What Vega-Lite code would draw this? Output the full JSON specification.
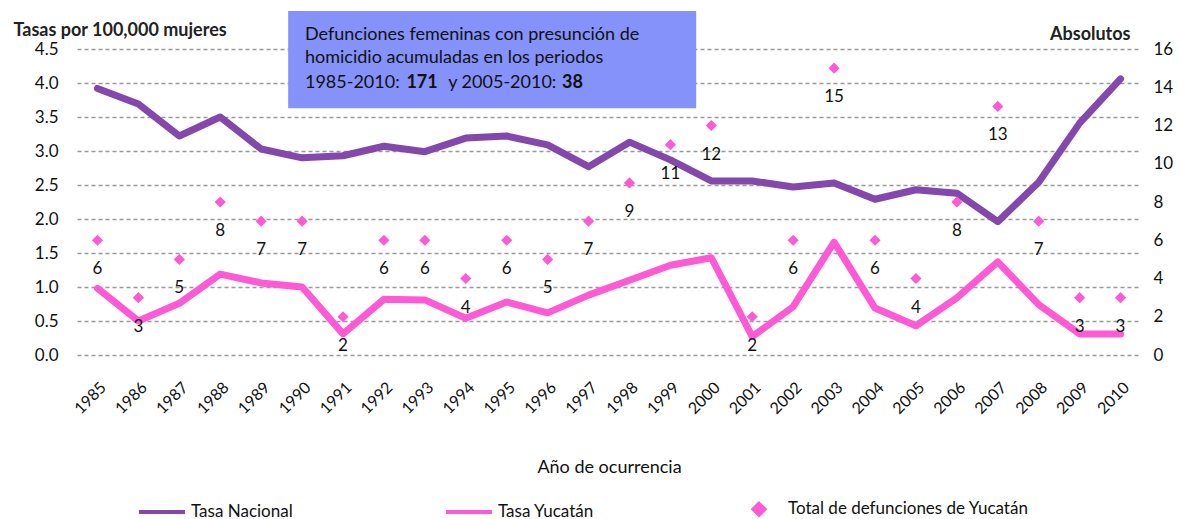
{
  "$schema": "https://vega.github.io/schema/vega-lite/v6.json",
  "width": 1064,
  "height": 306,
  "autosize": {"type": "none"},
  "padding": {"left": 77, "top": 49, "right": 40, "bottom": 164},
  "background": "white",
  "config": {
    "font": "Lato",
    "view": {"stroke": null},
    "axis": {"domain": false, "ticks": false, "tickSize": 0, "labelOverlap": false, "labelColor": "#111"}
  },
  "datasets": {
    "tasas": [
      {"anio": 1985, "serie": "Tasa  Nacional", "tasa": 3.92},
      {"anio": 1986, "serie": "Tasa  Nacional", "tasa": 3.69},
      {"anio": 1987, "serie": "Tasa  Nacional", "tasa": 3.22},
      {"anio": 1988, "serie": "Tasa  Nacional", "tasa": 3.5},
      {"anio": 1989, "serie": "Tasa  Nacional", "tasa": 3.03},
      {"anio": 1990, "serie": "Tasa  Nacional", "tasa": 2.9},
      {"anio": 1991, "serie": "Tasa  Nacional", "tasa": 2.93},
      {"anio": 1992, "serie": "Tasa  Nacional", "tasa": 3.07},
      {"anio": 1993, "serie": "Tasa  Nacional", "tasa": 2.99},
      {"anio": 1994, "serie": "Tasa  Nacional", "tasa": 3.19},
      {"anio": 1995, "serie": "Tasa  Nacional", "tasa": 3.22},
      {"anio": 1996, "serie": "Tasa  Nacional", "tasa": 3.09},
      {"anio": 1997, "serie": "Tasa  Nacional", "tasa": 2.77},
      {"anio": 1998, "serie": "Tasa  Nacional", "tasa": 3.13},
      {"anio": 1999, "serie": "Tasa  Nacional", "tasa": 2.87},
      {"anio": 2000, "serie": "Tasa  Nacional", "tasa": 2.56},
      {"anio": 2001, "serie": "Tasa  Nacional", "tasa": 2.56},
      {"anio": 2002, "serie": "Tasa  Nacional", "tasa": 2.47},
      {"anio": 2003, "serie": "Tasa  Nacional", "tasa": 2.53},
      {"anio": 2004, "serie": "Tasa  Nacional", "tasa": 2.29},
      {"anio": 2005, "serie": "Tasa  Nacional", "tasa": 2.43},
      {"anio": 2006, "serie": "Tasa  Nacional", "tasa": 2.38},
      {"anio": 2007, "serie": "Tasa  Nacional", "tasa": 1.96},
      {"anio": 2008, "serie": "Tasa  Nacional", "tasa": 2.54},
      {"anio": 2009, "serie": "Tasa  Nacional", "tasa": 3.41},
      {"anio": 2010, "serie": "Tasa  Nacional", "tasa": 4.06},
      {"anio": 1985, "serie": "Tasa Yucatán", "tasa": 0.98},
      {"anio": 1986, "serie": "Tasa Yucatán", "tasa": 0.5},
      {"anio": 1987, "serie": "Tasa Yucatán", "tasa": 0.76},
      {"anio": 1988, "serie": "Tasa Yucatán", "tasa": 1.19},
      {"anio": 1989, "serie": "Tasa Yucatán", "tasa": 1.06},
      {"anio": 1990, "serie": "Tasa Yucatán", "tasa": 1.0},
      {"anio": 1991, "serie": "Tasa Yucatán", "tasa": 0.31},
      {"anio": 1992, "serie": "Tasa Yucatán", "tasa": 0.82},
      {"anio": 1993, "serie": "Tasa Yucatán", "tasa": 0.81},
      {"anio": 1994, "serie": "Tasa Yucatán", "tasa": 0.54},
      {"anio": 1995, "serie": "Tasa Yucatán", "tasa": 0.78},
      {"anio": 1996, "serie": "Tasa Yucatán", "tasa": 0.62},
      {"anio": 1997, "serie": "Tasa Yucatán", "tasa": 0.88},
      {"anio": 1998, "serie": "Tasa Yucatán", "tasa": 1.1},
      {"anio": 1999, "serie": "Tasa Yucatán", "tasa": 1.32},
      {"anio": 2000, "serie": "Tasa Yucatán", "tasa": 1.43},
      {"anio": 2001, "serie": "Tasa Yucatán", "tasa": 0.27},
      {"anio": 2002, "serie": "Tasa Yucatán", "tasa": 0.71},
      {"anio": 2003, "serie": "Tasa Yucatán", "tasa": 1.66},
      {"anio": 2004, "serie": "Tasa Yucatán", "tasa": 0.69},
      {"anio": 2005, "serie": "Tasa Yucatán", "tasa": 0.43},
      {"anio": 2006, "serie": "Tasa Yucatán", "tasa": 0.84},
      {"anio": 2007, "serie": "Tasa Yucatán", "tasa": 1.37},
      {"anio": 2008, "serie": "Tasa Yucatán", "tasa": 0.74},
      {"anio": 2009, "serie": "Tasa Yucatán", "tasa": 0.31},
      {"anio": 2010, "serie": "Tasa Yucatán", "tasa": 0.31}
    ],
    "totales": [
      {"anio": 1985, "serie": "Total de defunciones de Yucatán", "total": 6},
      {"anio": 1986, "serie": "Total de defunciones de Yucatán", "total": 3},
      {"anio": 1987, "serie": "Total de defunciones de Yucatán", "total": 5},
      {"anio": 1988, "serie": "Total de defunciones de Yucatán", "total": 8},
      {"anio": 1989, "serie": "Total de defunciones de Yucatán", "total": 7},
      {"anio": 1990, "serie": "Total de defunciones de Yucatán", "total": 7},
      {"anio": 1991, "serie": "Total de defunciones de Yucatán", "total": 2},
      {"anio": 1992, "serie": "Total de defunciones de Yucatán", "total": 6},
      {"anio": 1993, "serie": "Total de defunciones de Yucatán", "total": 6},
      {"anio": 1994, "serie": "Total de defunciones de Yucatán", "total": 4},
      {"anio": 1995, "serie": "Total de defunciones de Yucatán", "total": 6},
      {"anio": 1996, "serie": "Total de defunciones de Yucatán", "total": 5},
      {"anio": 1997, "serie": "Total de defunciones de Yucatán", "total": 7},
      {"anio": 1998, "serie": "Total de defunciones de Yucatán", "total": 9},
      {"anio": 1999, "serie": "Total de defunciones de Yucatán", "total": 11},
      {"anio": 2000, "serie": "Total de defunciones de Yucatán", "total": 12},
      {"anio": 2001, "serie": "Total de defunciones de Yucatán", "total": 2},
      {"anio": 2002, "serie": "Total de defunciones de Yucatán", "total": 6},
      {"anio": 2003, "serie": "Total de defunciones de Yucatán", "total": 15},
      {"anio": 2004, "serie": "Total de defunciones de Yucatán", "total": 6},
      {"anio": 2005, "serie": "Total de defunciones de Yucatán", "total": 4},
      {"anio": 2006, "serie": "Total de defunciones de Yucatán", "total": 8},
      {"anio": 2007, "serie": "Total de defunciones de Yucatán", "total": 13},
      {"anio": 2008, "serie": "Total de defunciones de Yucatán", "total": 7},
      {"anio": 2009, "serie": "Total de defunciones de Yucatán", "total": 3},
      {"anio": 2010, "serie": "Total de defunciones de Yucatán", "total": 3}
    ],
    "uno": [{"id": 1}]
  },
  "layer": [
    {
      "layer": [
        {
          "data": {"name": "tasas"},
          "mark": {"type": "line", "strokeWidth": 7, "strokeCap": "round", "strokeJoin": "round"},
          "encoding": {
            "x": {
              "field": "anio", "type": "quantitative",
              "scale": {"domain": [1984.5, 2010.5], "nice": false, "zero": false},
              "axis": {"values": [1985,1986,1987,1988,1989,1990,1991,1992,1993,1994,1995,1996,1997,1998,1999,2000,2001,2002,2003,2004,2005,2006,2007,2008,2009,2010], "format": "d", "labelAngle": -45, "grid": false, "labelPadding": 24, "labelFontSize": 16, "title": "Año de ocurrencia", "titleFontSize": 18, "titleFontWeight": "normal", "titleColor": "#111", "titleBaseline": "alphabetic", "titleY": 117}
            },
            "y": {
              "field": "tasa", "type": "quantitative",
              "scale": {"domain": [0, 4.5], "nice": false},
              "axis": {"orient": "left", "values": [0, 0.5, 1, 1.5, 2, 2.5, 3, 3.5, 4, 4.5], "format": ".1f", "grid": true, "gridDash": [4, 3], "gridColor": "#999", "gridWidth": 1.5, "labelPadding": 19, "labelFontSize": 17, "title": "Tasas por 100,000 mujeres", "titleAngle": 0, "titleAlign": "left", "titleBaseline": "alphabetic", "titleX": -64, "titleY": -14, "titleFontSize": 18, "titleFontWeight": "bold", "titleColor": "#222"}
            },
            "color": {
              "field": "serie", "type": "nominal",
              "scale": {
                "domain": ["Tasa  Nacional", "Tasa Yucatán", "Total de defunciones de Yucatán"],
                "range": ["#8447ac", "#ff5ad6", "#ff5ad6"]
              },
              "legend": {
                "orient": "none", "legendX": 60, "legendY": 435, "direction": "horizontal",
                "title": null, "symbolType": "stroke", "symbolSize": 2116, "symbolStrokeWidth": 4,
                "labelFontSize": 17, "labelColor": "#111", "labelOffset": 4, "labelLimit": 400, "columnPadding": 140,
                "encode": {
                  "symbols": {
                    "update": {
                      "shape": {"signal": "datum.value === 'Total de defunciones de Yucatán' ? 'diamond' : 'stroke'"},
                      "size": {"signal": "datum.value === 'Total de defunciones de Yucatán' ? 120 : 2116"},
                      "fill": {"signal": "datum.value === 'Total de defunciones de Yucatán' ? '#ff5ad6' : 'transparent'"},
                      "stroke": {"signal": "datum.value === 'Tasa  Nacional' ? '#8447ac' : (datum.value === 'Tasa Yucatán' ? '#ff5ad6' : 'transparent')"},
                      "strokeWidth": {"value": 4},
                      "opacity": {"value": 1}
                    }
                  }
                }
              }
            }
          }
        },
        {
          "data": {"name": "uno"},
          "mark": {"type": "rect", "color": "#8492fa"},
          "encoding": {
            "x": {"datum": 1989.66, "type": "quantitative", "axis": {"values": [1985,1986,1987,1988,1989,1990,1991,1992,1993,1994,1995,1996,1997,1998,1999,2000,2001,2002,2003,2004,2005,2006,2007,2008,2009,2010], "format": "d", "labelAngle": -45, "grid": false, "labelPadding": 24, "labelFontSize": 16, "title": "Año de ocurrencia", "titleFontSize": 18, "titleFontWeight": "normal", "titleColor": "#111", "titleBaseline": "alphabetic", "titleY": 117}},
            "x2": {"datum": 1999.63},
            "y": {"datum": 5.06, "type": "quantitative", "axis": {"orient": "left", "values": [0, 0.5, 1, 1.5, 2, 2.5, 3, 3.5, 4, 4.5], "format": ".1f", "grid": true, "gridDash": [4, 3], "gridColor": "#999", "gridWidth": 1.5, "labelPadding": 19, "labelFontSize": 17, "title": "Tasas por 100,000 mujeres", "titleAngle": 0, "titleAlign": "left", "titleBaseline": "alphabetic", "titleX": -64, "titleY": -14, "titleFontSize": 18, "titleFontWeight": "bold", "titleColor": "#222"}},
            "y2": {"datum": 3.63}
          }
        },
        {
          "data": {"name": "uno"},
          "mark": {"type": "text", "align": "left", "baseline": "alphabetic", "fontSize": 18, "color": "#111", "text": "Defunciones femeninas con presunción de"},
          "encoding": {
            "x": {"datum": 1990.07, "type": "quantitative", "axis": {"values": [1985,1986,1987,1988,1989,1990,1991,1992,1993,1994,1995,1996,1997,1998,1999,2000,2001,2002,2003,2004,2005,2006,2007,2008,2009,2010], "format": "d", "labelAngle": -45, "grid": false, "labelPadding": 24, "labelFontSize": 16, "title": "Año de ocurrencia", "titleFontSize": 18, "titleFontWeight": "normal", "titleColor": "#111", "titleBaseline": "alphabetic", "titleY": 117}},
            "y": {"datum": 4.63, "type": "quantitative", "axis": {"orient": "left", "values": [0, 0.5, 1, 1.5, 2, 2.5, 3, 3.5, 4, 4.5], "format": ".1f", "grid": true, "gridDash": [4, 3], "gridColor": "#999", "gridWidth": 1.5, "labelPadding": 19, "labelFontSize": 17, "title": "Tasas por 100,000 mujeres", "titleAngle": 0, "titleAlign": "left", "titleBaseline": "alphabetic", "titleX": -64, "titleY": -14, "titleFontSize": 18, "titleFontWeight": "bold", "titleColor": "#222"}}
          }
        },
        {
          "data": {"name": "uno"},
          "mark": {"type": "text", "align": "left", "baseline": "alphabetic", "fontSize": 18, "color": "#111", "text": "homicidio acumuladas en los periodos"},
          "encoding": {
            "x": {"datum": 1990.07, "type": "quantitative", "axis": {"values": [1985,1986,1987,1988,1989,1990,1991,1992,1993,1994,1995,1996,1997,1998,1999,2000,2001,2002,2003,2004,2005,2006,2007,2008,2009,2010], "format": "d", "labelAngle": -45, "grid": false, "labelPadding": 24, "labelFontSize": 16, "title": "Año de ocurrencia", "titleFontSize": 18, "titleFontWeight": "normal", "titleColor": "#111", "titleBaseline": "alphabetic", "titleY": 117}},
            "y": {"datum": 4.29, "type": "quantitative", "axis": {"orient": "left", "values": [0, 0.5, 1, 1.5, 2, 2.5, 3, 3.5, 4, 4.5], "format": ".1f", "grid": true, "gridDash": [4, 3], "gridColor": "#999", "gridWidth": 1.5, "labelPadding": 19, "labelFontSize": 17, "title": "Tasas por 100,000 mujeres", "titleAngle": 0, "titleAlign": "left", "titleBaseline": "alphabetic", "titleX": -64, "titleY": -14, "titleFontSize": 18, "titleFontWeight": "bold", "titleColor": "#222"}}
          }
        },
        {
          "data": {"name": "uno"},
          "mark": {"type": "text", "align": "left", "baseline": "alphabetic", "fontSize": 18, "color": "#111", "text": "1985-2010:"},
          "encoding": {
            "x": {"datum": 1990.07, "type": "quantitative", "axis": {"values": [1985,1986,1987,1988,1989,1990,1991,1992,1993,1994,1995,1996,1997,1998,1999,2000,2001,2002,2003,2004,2005,2006,2007,2008,2009,2010], "format": "d", "labelAngle": -45, "grid": false, "labelPadding": 24, "labelFontSize": 16, "title": "Año de ocurrencia", "titleFontSize": 18, "titleFontWeight": "normal", "titleColor": "#111", "titleBaseline": "alphabetic", "titleY": 117}},
            "y": {"datum": 3.93, "type": "quantitative", "axis": {"orient": "left", "values": [0, 0.5, 1, 1.5, 2, 2.5, 3, 3.5, 4, 4.5], "format": ".1f", "grid": true, "gridDash": [4, 3], "gridColor": "#999", "gridWidth": 1.5, "labelPadding": 19, "labelFontSize": 17, "title": "Tasas por 100,000 mujeres", "titleAngle": 0, "titleAlign": "left", "titleBaseline": "alphabetic", "titleX": -64, "titleY": -14, "titleFontSize": 18, "titleFontWeight": "bold", "titleColor": "#222"}}
          }
        },
        {
          "data": {"name": "uno"},
          "mark": {"type": "text", "align": "left", "baseline": "alphabetic", "fontSize": 18, "fontWeight": "bold", "color": "#111", "text": "171"},
          "encoding": {
            "x": {"datum": 1992.55, "type": "quantitative", "axis": {"values": [1985,1986,1987,1988,1989,1990,1991,1992,1993,1994,1995,1996,1997,1998,1999,2000,2001,2002,2003,2004,2005,2006,2007,2008,2009,2010], "format": "d", "labelAngle": -45, "grid": false, "labelPadding": 24, "labelFontSize": 16, "title": "Año de ocurrencia", "titleFontSize": 18, "titleFontWeight": "normal", "titleColor": "#111", "titleBaseline": "alphabetic", "titleY": 117}},
            "y": {"datum": 3.93, "type": "quantitative", "axis": {"orient": "left", "values": [0, 0.5, 1, 1.5, 2, 2.5, 3, 3.5, 4, 4.5], "format": ".1f", "grid": true, "gridDash": [4, 3], "gridColor": "#999", "gridWidth": 1.5, "labelPadding": 19, "labelFontSize": 17, "title": "Tasas por 100,000 mujeres", "titleAngle": 0, "titleAlign": "left", "titleBaseline": "alphabetic", "titleX": -64, "titleY": -14, "titleFontSize": 18, "titleFontWeight": "bold", "titleColor": "#222"}}
          }
        },
        {
          "data": {"name": "uno"},
          "mark": {"type": "text", "align": "left", "baseline": "alphabetic", "fontSize": 18, "color": "#111", "text": "y 2005-2010:"},
          "encoding": {
            "x": {"datum": 1993.57, "type": "quantitative", "axis": {"values": [1985,1986,1987,1988,1989,1990,1991,1992,1993,1994,1995,1996,1997,1998,1999,2000,2001,2002,2003,2004,2005,2006,2007,2008,2009,2010], "format": "d", "labelAngle": -45, "grid": false, "labelPadding": 24, "labelFontSize": 16, "title": "Año de ocurrencia", "titleFontSize": 18, "titleFontWeight": "normal", "titleColor": "#111", "titleBaseline": "alphabetic", "titleY": 117}},
            "y": {"datum": 3.93, "type": "quantitative", "axis": {"orient": "left", "values": [0, 0.5, 1, 1.5, 2, 2.5, 3, 3.5, 4, 4.5], "format": ".1f", "grid": true, "gridDash": [4, 3], "gridColor": "#999", "gridWidth": 1.5, "labelPadding": 19, "labelFontSize": 17, "title": "Tasas por 100,000 mujeres", "titleAngle": 0, "titleAlign": "left", "titleBaseline": "alphabetic", "titleX": -64, "titleY": -14, "titleFontSize": 18, "titleFontWeight": "bold", "titleColor": "#222"}}
          }
        },
        {
          "data": {"name": "uno"},
          "mark": {"type": "text", "align": "left", "baseline": "alphabetic", "fontSize": 18, "fontWeight": "bold", "color": "#111", "text": "38"},
          "encoding": {
            "x": {"datum": 1996.35, "type": "quantitative", "axis": {"values": [1985,1986,1987,1988,1989,1990,1991,1992,1993,1994,1995,1996,1997,1998,1999,2000,2001,2002,2003,2004,2005,2006,2007,2008,2009,2010], "format": "d", "labelAngle": -45, "grid": false, "labelPadding": 24, "labelFontSize": 16, "title": "Año de ocurrencia", "titleFontSize": 18, "titleFontWeight": "normal", "titleColor": "#111", "titleBaseline": "alphabetic", "titleY": 117}},
            "y": {"datum": 3.93, "type": "quantitative", "axis": {"orient": "left", "values": [0, 0.5, 1, 1.5, 2, 2.5, 3, 3.5, 4, 4.5], "format": ".1f", "grid": true, "gridDash": [4, 3], "gridColor": "#999", "gridWidth": 1.5, "labelPadding": 19, "labelFontSize": 17, "title": "Tasas por 100,000 mujeres", "titleAngle": 0, "titleAlign": "left", "titleBaseline": "alphabetic", "titleX": -64, "titleY": -14, "titleFontSize": 18, "titleFontWeight": "bold", "titleColor": "#222"}}
          }
        }
      ]
    },
    {
      "data": {"name": "totales"},
      "layer": [
        {
          "mark": {"type": "point", "shape": "diamond", "filled": true, "size": 125, "opacity": 1},
          "encoding": {
            "x": {"field": "anio", "type": "quantitative", "axis": {"values": [1985,1986,1987,1988,1989,1990,1991,1992,1993,1994,1995,1996,1997,1998,1999,2000,2001,2002,2003,2004,2005,2006,2007,2008,2009,2010], "format": "d", "labelAngle": -45, "grid": false, "labelPadding": 24, "labelFontSize": 16, "title": "Año de ocurrencia", "titleFontSize": 18, "titleFontWeight": "normal", "titleColor": "#111", "titleBaseline": "alphabetic", "titleY": 117}},
            "y": {
              "field": "total", "type": "quantitative",
              "scale": {"domain": [0, 16], "nice": false},
              "axis": {"orient": "right", "values": [0, 2, 4, 6, 8, 10, 12, 14, 16], "format": "d", "grid": false, "labelPadding": 12, "labelFontSize": 17, "title": "Absolutos", "titleAngle": 0, "titleAlign": "right", "titleBaseline": "alphabetic", "titleX": -11, "titleY": -10, "titleFontSize": 18, "titleFontWeight": "bold", "titleColor": "#222"}
            },
            "color": {"field": "serie", "type": "nominal"}
          }
        },
        {
          "mark": {"type": "text", "dy": 29, "baseline": "middle", "fontSize": 17, "color": "#111"},
          "encoding": {
            "x": {"field": "anio", "type": "quantitative", "axis": {"values": [1985,1986,1987,1988,1989,1990,1991,1992,1993,1994,1995,1996,1997,1998,1999,2000,2001,2002,2003,2004,2005,2006,2007,2008,2009,2010], "format": "d", "labelAngle": -45, "grid": false, "labelPadding": 24, "labelFontSize": 16, "title": "Año de ocurrencia", "titleFontSize": 18, "titleFontWeight": "normal", "titleColor": "#111", "titleBaseline": "alphabetic", "titleY": 117}},
            "y": {"field": "total", "type": "quantitative", "axis": {"orient": "right", "values": [0, 2, 4, 6, 8, 10, 12, 14, 16], "format": "d", "grid": false, "labelPadding": 12, "labelFontSize": 17, "title": "Absolutos", "titleAngle": 0, "titleAlign": "right", "titleBaseline": "alphabetic", "titleX": -11, "titleY": -10, "titleFontSize": 18, "titleFontWeight": "bold", "titleColor": "#222"}},
            "text": {"field": "total", "type": "quantitative"}
          }
        }
      ]
    }
  ],
  "resolve": {"scale": {"y": "independent"}}
}
